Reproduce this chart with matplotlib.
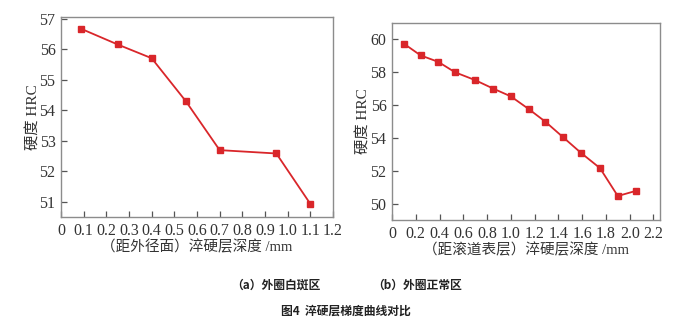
import matplotlib
matplotlib.use("Agg")
import matplotlib.pyplot as plt

plt.rcParams['font.family'] = ['Liberation Serif', 'Noto Sans CJK SC', 'DejaVu Sans']

# (a) 外圈白斑区
depth_a = [0.09, 0.25, 0.40, 0.55, 0.70, 0.95, 1.10]
hrc_a = [56.66, 56.15, 55.70, 54.30, 52.69, 52.58, 50.93]

# (b) 外圈正常区
depth_b = [0.10, 0.24, 0.39, 0.53, 0.70, 0.85, 1.00, 1.15, 1.29, 1.44, 1.59, 1.75, 1.90, 2.05]
hrc_b = [59.74, 59.03, 58.63, 58.00, 57.52, 57.01, 56.53, 55.76, 54.99, 54.04,
         53.09, 52.16, 50.46, 50.77]

xticks_a = [0, 0.1, 0.2, 0.3, 0.4, 0.5, 0.6, 0.7, 0.8, 0.9, 1.0, 1.1, 1.2]
xlabels_a = ['0', '0.1', '0.2', '0.3', '0.4', '0.5', '0.6', '0.7', '0.8', '0.9', '1.0', '1.1', '1.2']
yticks_a = [51, 52, 53, 54, 55, 56, 57]
xticks_b = [0, 0.2, 0.4, 0.6, 0.8, 1.0, 1.2, 1.4, 1.6, 1.8, 2.0, 2.2]
xlabels_b = ['0', '0.2', '0.4', '0.6', '0.8', '1.0', '1.2', '1.4', '1.6', '1.8', '2.0', '2.2']
yticks_b = [50, 52, 54, 56, 58, 60]

red = '#d9262a'
grey = '#8c8c8c'
cjk = ['Noto Sans CJK SC', 'DejaVu Sans']
mixed = ['Liberation Serif', 'Noto Sans CJK SC']

fig = plt.figure(figsize=(6.8, 3.24), dpi=100)
W, H = 680, 324
ax1 = fig.add_axes([61 / W, 1 - 217 / H, (333 - 61) / W, (217 - 17) / H])
ax2 = fig.add_axes([392 / W, 1 - 220 / H, (660 - 392) / W, (220 - 23) / H])


def style(ax):
    for s in ax.spines.values():
        s.set_color(grey)
        s.set_linewidth(1.0)
    ax.tick_params(direction='in', length=4, width=0.9, color='#555555',
                   labelsize=11.5, labelcolor='#333333', pad=4)


ax1.plot(depth_a, hrc_a, '-s', color=red, lw=1.3, ms=4.5)
ax1.set_xlim(0, 1.2)
ax1.set_ylim(50.5, 57.05)
ax1.set_xticks(xticks_a)
ax1.set_xticklabels(xlabels_a)
ax1.set_yticks(yticks_a)
style(ax1)
ax1.set_xlabel('（距外径面）淬硬层深度 /mm', family=mixed, fontsize=10.5, color='#333333', labelpad=1)
ax1.set_ylabel('硬度 HRC', family=mixed, fontsize=11, color='#333333', labelpad=-1)

ax2.plot(depth_b, hrc_b, '-s', color=red, lw=1.3, ms=4.5)
ax2.set_xlim(0, 2.255)
ax2.set_ylim(49, 61)
ax2.set_xticks(xticks_b)
ax2.set_xticklabels(xlabels_b)
ax2.set_yticks(yticks_b)
style(ax2)
ax2.set_xlabel('（距滚道表层）淬硬层深度 /mm', family=mixed, fontsize=10.5, color='#333333', labelpad=1)
ax2.set_ylabel('硬度 HRC', family=mixed, fontsize=11, color='#333333', labelpad=0)

fig.text(276 / W, 1 - 285 / H, '（a）外圈白斑区', family=cjk, fontsize=8.5,
         weight='bold', ha='center', va='center', color='#222222')
fig.text(417 / W, 1 - 285 / H, '（b）外圈正常区', family=cjk, fontsize=8.5,
         weight='bold', ha='center', va='center', color='#222222')
fig.text(346 / W, 1 - 311 / H, '图4  淬硬层梯度曲线对比', family=cjk, fontsize=8.5,
         weight='bold', ha='center', va='center', color='#222222')

fig.savefig('out.png', dpi=100)
